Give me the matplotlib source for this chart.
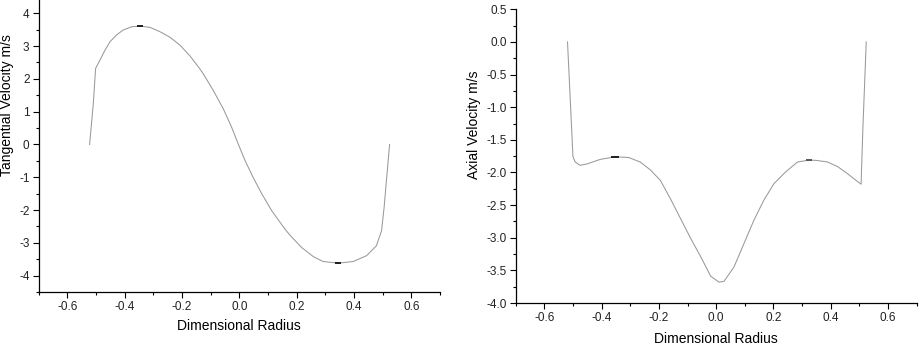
import matplotlib
matplotlib.use("Agg")
import matplotlib.pyplot as plt
from matplotlib.ticker import MultipleLocator, FormatStrFormatter
import numpy as np

plt.rcParams['font.family'] = ['Liberation Sans', 'DejaVu Sans']

# Tangential velocity profile
tan_r = [-0.522, -0.509, -0.501, -0.486, -0.468, -0.451, -0.428, -0.405, -0.375,
         -0.346, -0.311, -0.277, -0.242, -0.207, -0.172, -0.143, -0.126, -0.091,
         -0.056, -0.027, -0.004, 0.020, 0.048, 0.078, 0.113, 0.159, 0.176, 0.217,
         0.258, 0.292, 0.345, 0.397, 0.444, 0.478, 0.496, 0.505, 0.513, 0.524]
tan_v = [0.0, 1.25, 2.32, 2.57, 2.88, 3.13, 3.34, 3.49, 3.59,
         3.61, 3.57, 3.44, 3.27, 3.03, 2.70, 2.37, 2.16, 1.65,
         1.09, 0.53, 0.02, -0.49, -1.00, -1.50, -2.02, -2.58, -2.76, -3.14,
         -3.42, -3.57, -3.62, -3.57, -3.39, -3.09, -2.63, -1.91, -1.10, 0.0]

# Axial velocity profile
ax_r = [-0.519, -0.500, -0.492, -0.475, -0.451, -0.405, -0.352, -0.306, -0.265,
        -0.230, -0.195, -0.160, -0.124, -0.089, -0.054, -0.019, 0.010, 0.027,
        0.062, 0.097, 0.132, 0.167, 0.202, 0.243, 0.284, 0.325, 0.350, 0.389,
        0.424, 0.459, 0.488, 0.506, 0.512, 0.524]
ax_v = [0.0, -1.76, -1.84, -1.89, -1.87, -1.80, -1.76, -1.77, -1.84,
        -1.96, -2.12, -2.40, -2.71, -3.01, -3.29, -3.59, -3.68, -3.67,
        -3.45, -3.09, -2.73, -2.42, -2.17, -1.99, -1.84, -1.81, -1.815, -1.84,
        -1.91, -2.02, -2.12, -2.18, -1.35, 0.0]

xticks = [-0.6, -0.4, -0.2, 0.0, 0.2, 0.4, 0.6]

fig = plt.figure(figsize=(9.22, 3.48), dpi=100)
ax1 = fig.add_axes([0.0418, 0.1609, 0.4355, 0.848])
ax2 = fig.add_axes([0.5593, 0.1293, 0.4349, 0.844])

line_kw = dict(color='#999999', lw=0.75)

def style(ax, ymaj, ymin, yfmt):
    ax.spines['top'].set_visible(False)
    ax.spines['right'].set_visible(False)
    for s in ('left', 'bottom'):
        ax.spines[s].set_linewidth(0.9)
    ax.set_xlim(-0.7, 0.7)
    ax.set_xticks(xticks)
    ax.xaxis.set_minor_locator(MultipleLocator(0.1))
    ax.xaxis.set_major_formatter(FormatStrFormatter('%.1f'))
    ax.yaxis.set_major_locator(MultipleLocator(ymaj))
    ax.yaxis.set_minor_locator(MultipleLocator(ymin))
    ax.yaxis.set_major_formatter(FormatStrFormatter(yfmt))
    ax.tick_params(which='major', direction='out', length=4.5, width=0.8,
                   labelsize=8.5, colors='black', labelcolor='#222222', pad=2)
    ax.tick_params(which='minor', direction='out', length=2.5, width=0.8)

# Left panel
x1 = np.array(tan_r); y1 = np.array(tan_v)
ax1.plot(x1, y1, **line_kw)
ax1.plot(x1[np.argmax(y1)], y1.max(), marker='_', color='black', ms=5, mew=1.2)
ax1.plot(x1[np.argmin(y1)], y1.min(), marker='_', color='black', ms=5, mew=1.2)
style(ax1, 1, 0.5, '%d')
ax1.set_ylim(-4.5, 4.5)
ax1.set_xlabel('Dimensional Radius', fontsize=10, labelpad=4)
ax1.set_ylabel('Tangential Velocity m/s', fontsize=10)
ax1.yaxis.set_label_coords(-0.060, 0.634)

# Right panel
x2 = np.array(ax_r); y2 = np.array(ax_v)
ax2.plot(x2, y2, **line_kw)
lm = (x2 < 0) & (x2 > -0.45)
ax2.plot(x2[lm][np.argmax(y2[lm])], y2[lm].max(), marker='_',
         color='black', ms=6, mew=1.2)
rm = (x2 > 0.2) & (x2 < 0.5)
ax2.plot(x2[rm][np.argmax(y2[rm])], y2[rm].max(), marker='_',
         color='#444444', ms=5, mew=1.2)
style(ax2, 0.5, 0.25, '%.1f')
ax2.set_ylim(-4.0, 0.5)
ax2.set_xlabel('Dimensional Radius', fontsize=10, labelpad=6)
ax2.set_ylabel('Axial Velocity m/s', fontsize=10)
ax2.yaxis.set_label_coords(-0.086, 0.606)

fig.savefig('out.png', dpi=100)
